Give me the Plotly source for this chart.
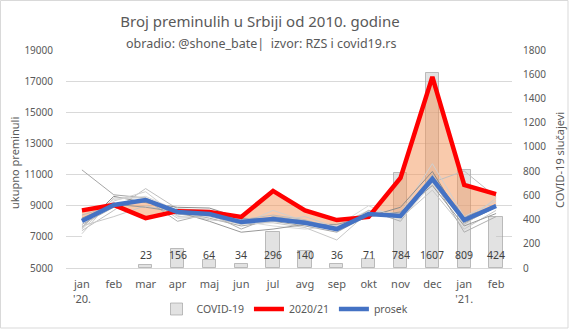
import plotly.graph_objects as go

months = ["jan<br>'20.", "feb", "mar", "apr", "maj", "jun", "jul", "avg", "sep",
          "okt", "nov", "dec", "jan<br>'21.", "feb"]
covid = [None, None, 23, 156, 64, 34, 296, 140, 36, 71, 784, 1607, 809, 424]
deaths_2020_21 = [8700, 9050, 8200, 8650, 8600, 8280, 9950, 8700, 8080, 8280,
                  10780, 17270, 10330, 9750]
prosek = [8020, 9050, 9370, 8600, 8470, 7950, 8150, 7900, 7500, 8470, 8340,
          10720, 8080, 8980]
years = [
    [11300, 9700, 9500, 8600, 8200, 7700, 8000, 7700, 7300, 8400, 8300, 10900, 8300, 9000],
    [7400, 8700, 10100, 8800, 8700, 8100, 8200, 7900, 7600, 8500, 8400, 10500, 11230, 9560],
    [7500, 9300, 9900, 8300, 8400, 7800, 8700, 8000, 7700, 8700, 8500, 11700, 8300, 9300],
    [7600, 9600, 9200, 8900, 8850, 8200, 8100, 7950, 7500, 8300, 8900, 11200, 7900, 8900],
    [7700, 8300, 9000, 8500, 8100, 7900, 7900, 7600, 6800, 8600, 8200, 10000, 7500, 8700],
    [7800, 8900, 9400, 8000, 8500, 7500, 8300, 8050, 7400, 8700, 8000, 10700, 7300, 8300],
    [8000, 9400, 9600, 8700, 8600, 8000, 7700, 7500, 7700, 9000, 8100, 10400, 8000, 9000],
    [8200, 9100, 8900, 8600, 8000, 7300, 7500, 7800, 7800, 8300, 8600, 10300, 7700, 8500],
    [8400, 9000, 9300, 8400, 8700, 8100, 8400, 8100, 7500, 8500, 8400, 11000, 7800, 9100],
    [7200, 9500, 9500, 8200, 8300, 7800, 8000, 8300, 7600, 8600, 8300, 10500, 7900, 9500],
]
year_colors = ['#a6a6a6', '#bfbfbf', '#d0d0d0', '#8c8c8c', '#c8c8c8',
               '#b0b0b0', '#d9d9d9', '#999999', '#bdbdbd', '#cccccc']

x = list(range(len(months)))
base = [min(a, b) for a, b in zip(deaths_2020_21, prosek)]
label_level = 107
txt = '#595959'
font = "Noto Sans"

fig = go.Figure()
# white base area (hides gridlines below the lines)
fig.add_trace(go.Scatter(x=x, y=base, mode='lines', fill='tozeroy',
                         fillcolor='white', line=dict(width=0, color='white'),
                         showlegend=False, hoverinfo='skip', yaxis='y'))
# covid bars
fig.add_trace(go.Bar(x=x, y=covid, name='COVID-19', width=0.42,
                     marker=dict(color='rgba(190,190,190,0.45)',
                                 line=dict(color='rgba(150,150,150,0.6)', width=1)),
                     yaxis='y2'))
# peach fill between red and blue
fig.add_trace(go.Scatter(x=x, y=prosek, mode='lines', line=dict(width=0),
                         showlegend=False, hoverinfo='skip', yaxis='y3'))
fig.add_trace(go.Scatter(x=x, y=deaths_2020_21, mode='lines', line=dict(width=0),
                         fill='tonexty', fillcolor='rgba(244,150,90,0.5)',
                         showlegend=False, hoverinfo='skip', yaxis='y3'))
for ys, c in zip(years, year_colors):
    fig.add_trace(go.Scatter(x=x, y=ys, mode='lines', line=dict(width=1, color=c),
                             showlegend=False, hoverinfo='skip', yaxis='y3'))
fig.add_trace(go.Scatter(x=x, y=deaths_2020_21, mode='lines', name='2020/21',
                         line=dict(width=4.5, color='#ff0000'), yaxis='y3'))
fig.add_trace(go.Scatter(x=x, y=prosek, mode='lines', name='prosek',
                         line=dict(width=4.5, color='#4472c4'), yaxis='y3'))

L, R, T, B = 66, 57, 50, 61
W, H = 569, 329
pw, ph = W - L - R, H - T - B

def px(xp):
    return (xp - L) / pw

def py(yp):
    return (H - B - yp) / ph

bar_labels = [dict(x=i, y=label_level, xref='x', yref='y2', text=str(v),
                   showarrow=False, font=dict(size=10.5, color='#404040'),
                   xanchor='center', yanchor='middle')
              for i, v in zip(x, covid) if v is not None]

fig.update_layout(
    width=W, height=H, margin=dict(l=L, r=R, t=T, b=B, autoexpand=False),
    paper_bgcolor='white', plot_bgcolor='white',
    font=dict(family=font, color=txt, size=10),
    title=dict(text='Broj preminulih u Srbiji od 2010. godine', x=260 / W, xanchor='center',
               y=1 - 22 / H, yanchor='middle', font=dict(size=15, color=txt, family=font)),
    bargap=0,
    xaxis=dict(range=[-0.5, 13.5], tickvals=x, ticktext=months, showgrid=False,
               showline=True, linecolor='#d9d9d9', ticks='', zeroline=False,
               automargin=False,
               tickfont=dict(size=11, color=txt), ticklabelstandoff=6),
    yaxis=dict(range=[5000, 19000], dtick=2000, tick0=5000, showgrid=True,
               tickformat='d', automargin=False,
               gridcolor='#d9d9d9', zeroline=False, side='left', ticks='',
               tickfont=dict(size=10, color=txt), ticklabelstandoff=12),
    yaxis2=dict(range=[0, 1800], dtick=200, overlaying='y', side='right',
                showgrid=False, zeroline=False, ticks='', tickformat='d',
                automargin=False,
                tickfont=dict(size=10, color=txt), ticklabelstandoff=10),
    yaxis3=dict(range=[5000, 19000], overlaying='y', visible=False),
    legend=dict(orientation='h', x=px(285), xanchor='center', y=py(309),
                yanchor='middle', font=dict(size=10.5, color=txt),
                traceorder='normal', itemwidth=30),
    annotations=bar_labels + [
        dict(text='obradio: @shone_bate|  izvor: RZS i covid19.rs', xref='paper',
             yref='paper', x=px(261), y=py(44), showarrow=False,
             font=dict(size=12.5, color=txt), xanchor='center', yanchor='middle'),
        dict(text='ukupno preminuli', xref='paper', yref='paper', x=px(14), y=py(163),
             textangle=-90, showarrow=False, font=dict(size=11, color=txt),
             xanchor='center', yanchor='middle'),
        dict(text='COVID-19 slučajevi', xref='paper', yref='paper', x=px(559), y=py(160),
             textangle=-90, showarrow=False, font=dict(size=11, color=txt),
             xanchor='center', yanchor='middle'),
    ],
    shapes=[dict(type='rect', xref='paper', yref='paper', x0=px(0.5), x1=px(568),
                 y0=py(328), y1=py(0.5), line=dict(color='#d9d9d9', width=1),
                 layer='below')],
)

fig.write_html("out.html")
